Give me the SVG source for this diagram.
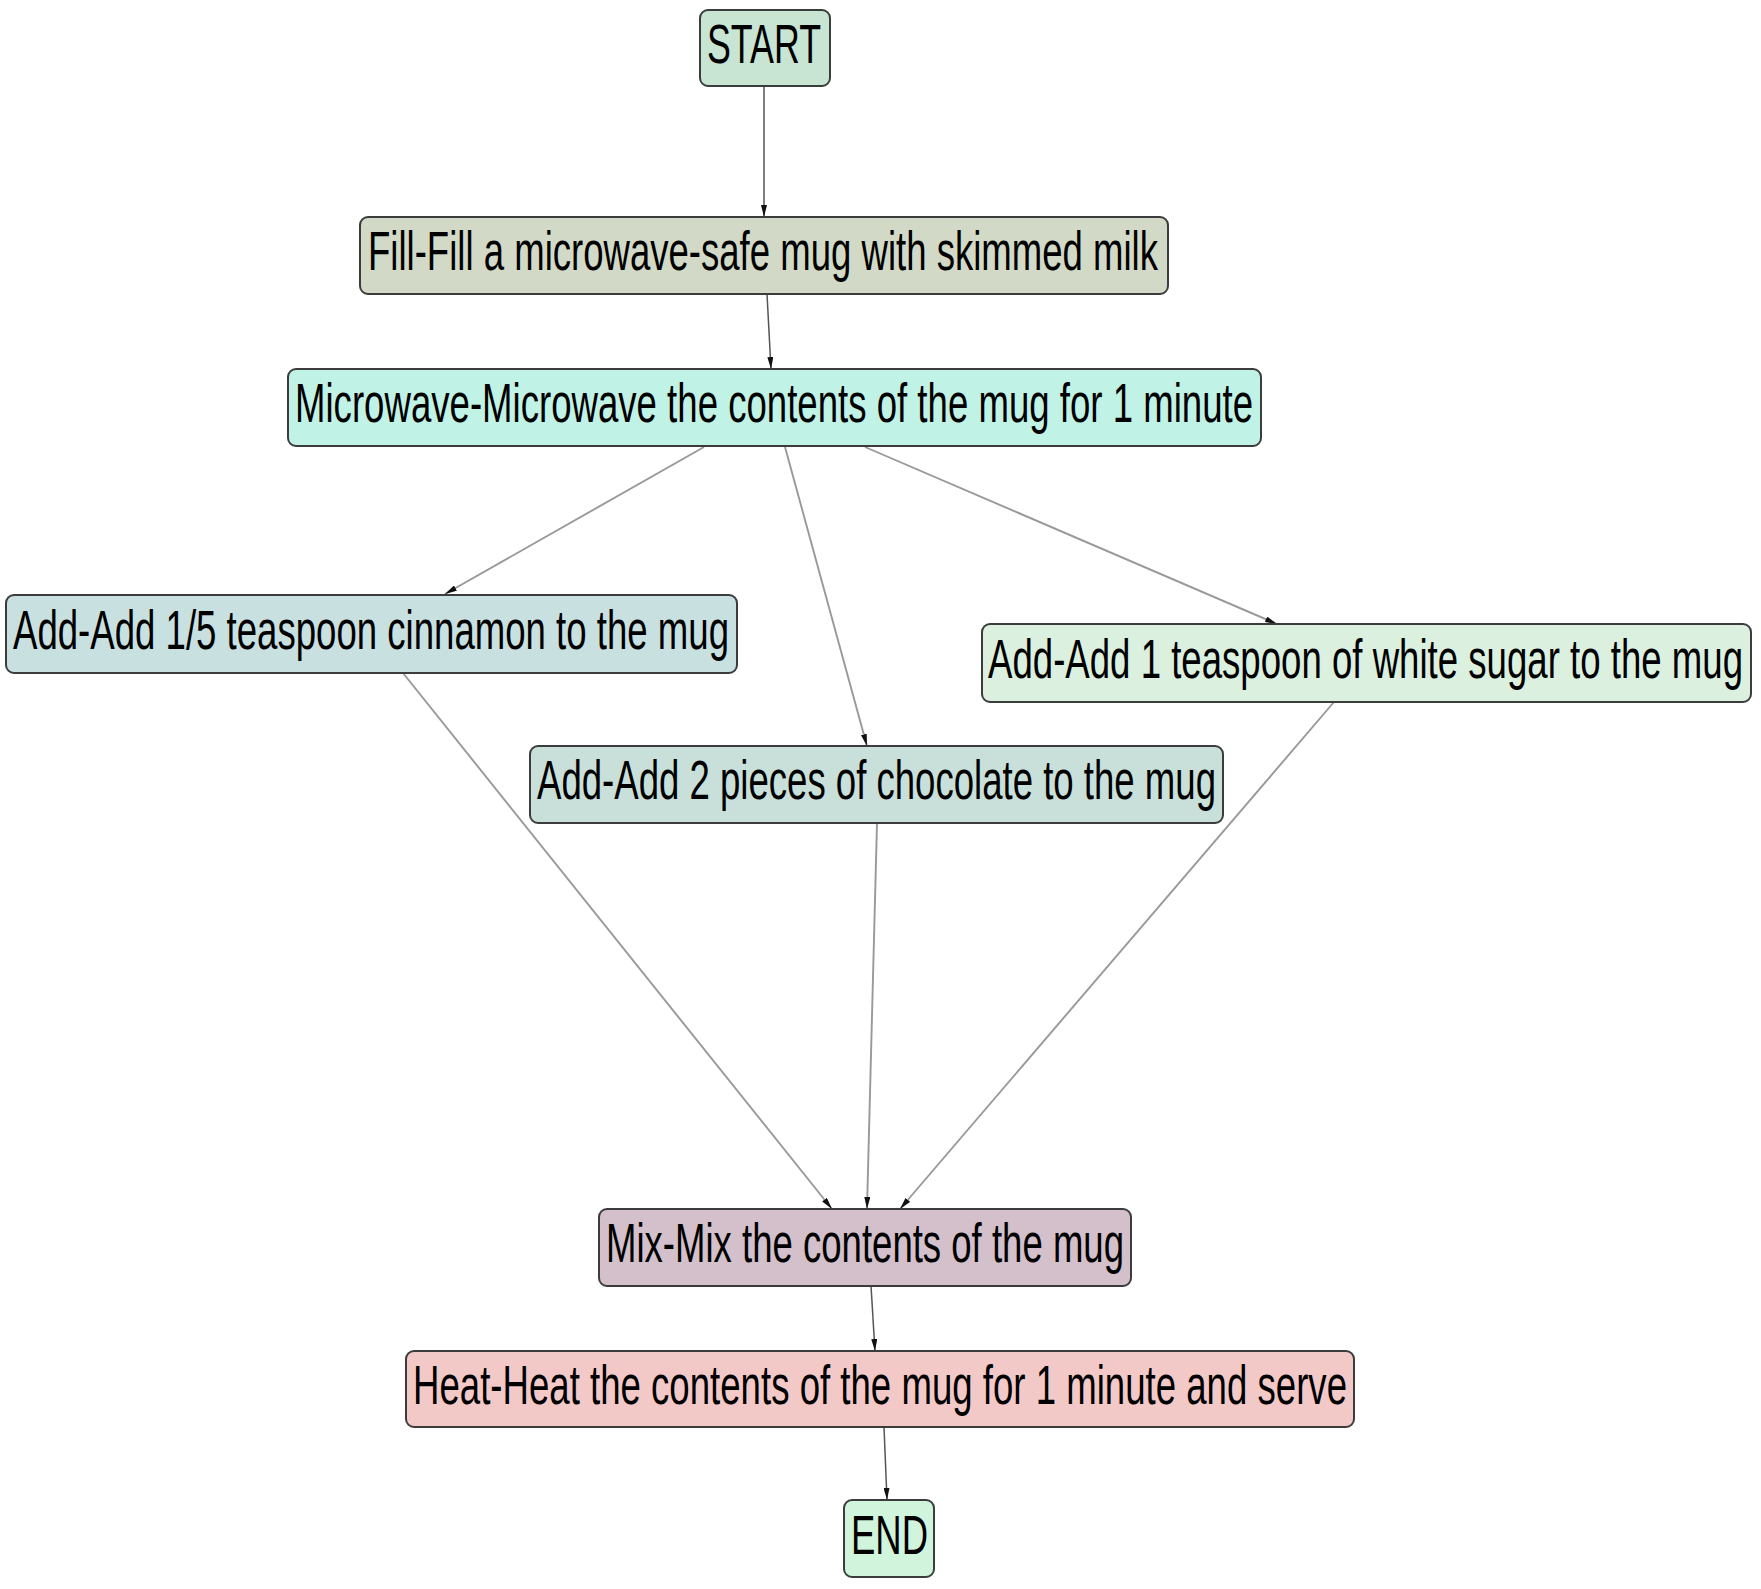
<svg xmlns="http://www.w3.org/2000/svg" width="1761" height="1589" viewBox="0 0 1761 1589">
<defs>
<marker id="ah" viewBox="0 0 12 6" refX="12" refY="3" markerWidth="12" markerHeight="6" markerUnits="userSpaceOnUse" orient="auto">
<path d="M0,0 L12,3 L0,6 Z" fill="#111"/>
</marker>
<style>
.n rect{stroke:#3c3c3c;stroke-width:2}
.n text{font-family:"Liberation Sans",Arial,sans-serif;font-size:56px;fill:#000;text-anchor:start}
.e path{fill:none;stroke:#999;stroke-width:1.9;marker-end:url(#ah)}
.e path.d{stroke:#555;stroke-width:1.5}
</style>
</defs>
<rect width="1761" height="1589" fill="#fff"/>
<g id="edges" class="e">
<path class="d" d="M764,86 L764,217"/>
<path class="d" d="M767,294 L771,369"/>
<path d="M704,447 L445,594"/>
<path d="M785,447 L867,746"/>
<path d="M865,447 L1277,624"/>
<path d="M403,673 L832,1209"/>
<path d="M877,823 L867,1209"/>
<path d="M1334,702 L900,1209"/>
<path class="d" d="M871,1286 L875,1351"/>
<path class="d" d="M884,1427 L887,1500"/>
</g>
<g id="start" class="n"><rect x="700" y="10" width="130" height="76" rx="8" fill="#c8e5d4"/><text x="707" y="63" textLength="114" lengthAdjust="spacingAndGlyphs">START</text></g>
<g id="fill" class="n"><rect x="360" y="217" width="808" height="77" rx="8" fill="#d2dac7"/><text x="368" y="270" textLength="790" lengthAdjust="spacingAndGlyphs">Fill-Fill a microwave-safe mug with skimmed milk</text></g>
<g id="microwave" class="n"><rect x="288" y="369" width="973" height="77" rx="8" fill="#c0f3e6"/><text x="295" y="422" textLength="958" lengthAdjust="spacingAndGlyphs">Microwave-Microwave the contents of the mug for 1 minute</text></g>
<g id="cinnamon" class="n"><rect x="6" y="595" width="731" height="78" rx="8" fill="#c8e1e0"/><text x="13" y="649" textLength="716" lengthAdjust="spacingAndGlyphs">Add-Add 1/5 teaspoon cinnamon to the mug</text></g>
<g id="sugar" class="n"><rect x="982" y="624" width="769" height="78" rx="8" fill="#dbf0df"/><text x="988" y="678" textLength="755" lengthAdjust="spacingAndGlyphs">Add-Add 1 teaspoon of white sugar to the mug</text></g>
<g id="chocolate" class="n"><rect x="530" y="746" width="693" height="77" rx="8" fill="#c8e0d9"/><text x="537" y="799" textLength="679" lengthAdjust="spacingAndGlyphs">Add-Add 2 pieces of chocolate to the mug</text></g>
<g id="mix" class="n"><rect x="599" y="1209" width="532" height="77" rx="8" fill="#d3c0ca"/><text x="606" y="1262" textLength="518" lengthAdjust="spacingAndGlyphs">Mix-Mix the contents of the mug</text></g>
<g id="heat" class="n"><rect x="406" y="1351" width="948" height="76" rx="8" fill="#f3c9c8"/><text x="413" y="1404" textLength="934" lengthAdjust="spacingAndGlyphs">Heat-Heat the contents of the mug for 1 minute and serve</text></g>
<g id="end" class="n"><rect x="844" y="1500" width="90" height="77" rx="8" fill="#d0f5dc"/><text x="851" y="1554" textLength="77" lengthAdjust="spacingAndGlyphs">END</text></g>
</svg>
